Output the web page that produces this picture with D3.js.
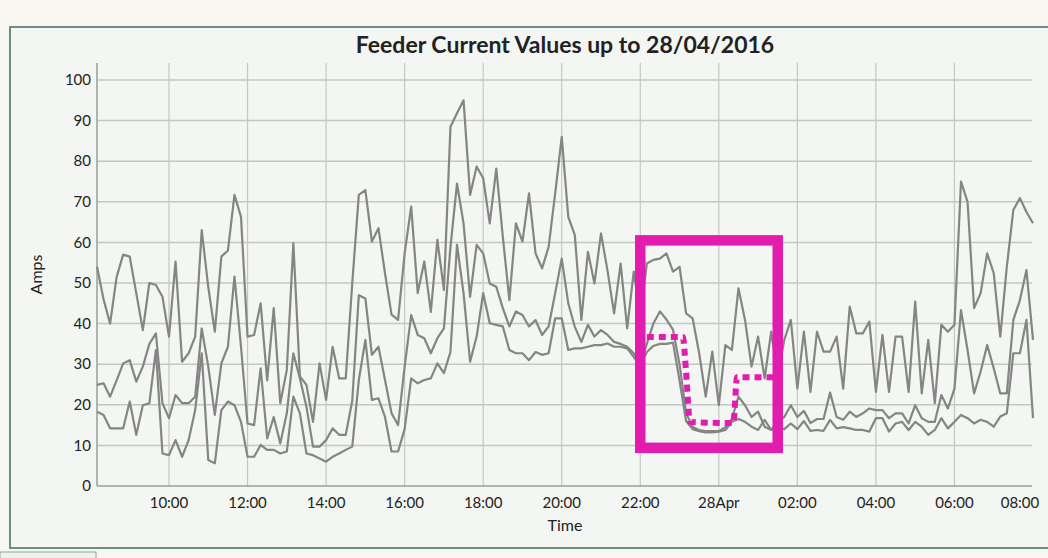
<!DOCTYPE html>
<html>
<head>
<meta charset="utf-8">
<script src="https://cdn.jsdelivr.net/npm/d3@7"></script>
<style>
  body { margin: 0; background: #f7f6f1; }
  svg { display: block; }
  text { font-family: Lato, "Open Sans", sans-serif; fill: #222; }
</style>
</head>
<body>
<svg id="chart" width="1048" height="558"></svg>
<script>
// feeder currents, one reading every 10 minutes from 27 Apr 08:10
const startTime = new Date(2016, 3, 27, 8, 10);
const endTime = new Date(2016, 3, 28, 8, 0);

const feederA = [54, 46, 40, 51.5, 57, 56.5, 47.5, 38.4, 50, 49.5, 46.6, 36.8, 55.3, 30.6, 32.7, 36.8,
  63, 49, 38, 56.5, 58, 71.7, 66.3, 36.8, 37.2, 45, 26, 43.8, 20.4, 28.6, 59.8, 27, 24.9, 15.8, 30.2, 21.2,
  34.3, 26.5, 26.5, 50, 71.7, 72.9, 60.2, 63.5, 52.4, 42.2, 40.9, 57.3, 68.8, 47.5, 55.3, 42.9, 60.6, 48.3,
  88.5, 91.8, 95, 71.7, 78.7, 75.8, 64.7, 78.2, 61.4, 45.8, 64.7, 60.2, 72.1, 57.3, 53.6, 58.9, 72.1, 86,
  66.3, 61.8, 40.9, 57.7, 49.9, 62.2, 53, 42.5, 54.8, 38.8, 52.8, 42, 54.8, 55.7, 56, 57.3, 52.8, 54,
  42.5, 41.3, 32.7, 22, 33.1, 19.9, 34.7, 33.5, 48.7, 40.9, 29.4, 36.8, 26.5, 38, 27, 36, 40.9, 24,
  38, 23.2, 38, 33.1, 33.1, 36.8, 24, 44.2, 37.6, 37.6, 40.5, 23.2, 37.2, 23.2, 36.8, 36.8, 23.2, 45.4,
  22.8, 36, 20.4, 39.7, 38, 39.7, 75, 70, 43.8, 47.5, 57.3, 52.4, 36.8, 54, 68, 70.9, 67.5, 64.7];

const feederB = [24.9, 25.3, 22, 26, 30.2, 31, 25.7, 29.4, 35, 37.6, 20.4, 16.7, 22.4, 20.4, 20.4, 22,
  38.8, 29.4, 17.5, 30.2, 34.3, 51.6, 34.3, 15.4, 15, 29, 11.7, 17, 10.5, 17.9, 32.7, 26.5, 19.5, 9.7, 9.7, 11.3,
  14.2, 12.6, 12.6, 21, 47, 46.2, 32.3, 34.3, 26.1, 17.9, 15, 29.4, 42.1, 37.2, 36.4, 32.7, 36.4, 38.8,
  58.9, 74.5, 64.7, 46.6, 59.4, 57.3, 49.9, 49.1, 43.8, 39.3, 43, 42.1, 39.3, 40.9, 37.2, 39.3, 47.5, 56,
  45, 39.2, 35.5, 39.7, 36.8, 38.4, 37.2, 35.5, 35, 34.3, 32.7, 30, 35, 40, 43, 41, 38.5, 30,
  18, 14.5, 13.8, 13.5, 13.5, 13.5, 14.5, 16.5, 22, 19.9, 17, 18.3, 14.6, 13.8, 16, 17, 19.9, 17,
  18.5, 15.5, 16.5, 16.5, 23, 17, 16.3, 18.3, 17, 17.9, 19.1, 18.7, 18.7, 16.7, 17.9, 17.9, 15.4, 19.9,
  16.7, 15.8, 15.8, 22.4, 19.1, 24, 43.3, 33.5, 22.8, 28.2, 34.7, 29, 22.8, 22.8, 40.9, 45.8, 53.2, 36];

const feederC = [18.3, 17.5, 14.2, 14.2, 14.2, 20.8, 12.6, 19.9, 20.4, 33.5, 8, 7.6, 11.3, 7.2, 11.3, 18.7,
  32.7, 6.4, 5.6, 18.7, 20.8, 19.9, 15.8, 7.2, 7.2, 10.1, 8.9, 8.9, 8, 8.5, 22, 17.9, 8, 7.6, 6.8, 6,
  7.2, 8, 8.9, 9.7, 26.1, 36, 21.2, 21.6, 17, 8.5, 8.5, 14, 26.5, 25.3, 26.1, 26.5, 30.2, 27.8,
  33, 59.4, 47.5, 30.6, 36.8, 47.5, 40.1, 39.7, 39.3, 33.5, 32.7, 32.7, 31, 33, 32.3, 32.7, 41.3, 41.3,
  33.5, 33.9, 33.9, 34.3, 34.7, 34.7, 35.1, 34.3, 34.3, 33.9, 31.8, 29.5, 33, 34.5, 35, 35, 35.3, 26,
  16, 14, 13.5, 13.2, 13.2, 13.4, 13.8, 15.8, 16.5, 15.8, 14.6, 13.8, 16.3, 13.8, 14.5, 14, 15.4, 14,
  16, 13.6, 13.8, 13.6, 16.3, 14.2, 14.5, 14.2, 13.8, 13.8, 13.4, 16.7, 16.7, 13.4, 15.4, 15.8, 13.8, 15.8,
  14.6, 12.6, 13.8, 16.7, 14.2, 15.8, 17.5, 16.7, 15.4, 16.3, 15.8, 14.6, 17.1, 17.9, 32.7, 32.7, 40.9, 16.7];

const yTicks = [0, 10, 20, 30, 40, 50, 60, 70, 80, 90, 100];

// highlight drawn over the chart: box [t0, t1, vTop, vBottom] and dotted step
const highlightBox = [new Date(2016, 3, 27, 22, 0), new Date(2016, 3, 28, 1, 30), 60.5, 9.4];
const highlightStep = [
  [new Date(2016, 3, 27, 22, 10), 36.7],
  [new Date(2016, 3, 27, 23, 5), 36.7],
  [new Date(2016, 3, 27, 23, 10), 28],
  [new Date(2016, 3, 27, 23, 16), 15.8],
  [new Date(2016, 3, 28, 0, 22), 15.5],
  [new Date(2016, 3, 28, 0, 28), 26.8],
  [new Date(2016, 3, 28, 1, 23), 26.8]
];

const svg = d3.select('#chart');
const plotLeft = 97, plotRight = 1033, plotTop = 63, plotBottom = 486;

const x = d3.scaleTime().domain([startTime, endTime]).range([plotLeft, plotRight]);
const y = d3.scaleLinear().domain([0, 100]).range([plotBottom, 80]);

const times = feederA.map((d, i) => d3.timeMinute.offset(startTime, i * 10));

// frame
svg.append('rect')
  .attr('x', 10).attr('y', 27).attr('width', 1050).attr('height', 521)
  .attr('fill', '#f3f6f2').attr('stroke', '#6b8f80').attr('stroke-width', 2);
svg.append('rect')
  .attr('x', 0).attr('y', 552).attr('width', 96).attr('height', 10)
  .attr('fill', '#eef2ef').attr('stroke', '#8aa89a');

// horizontal grid
svg.append('g').selectAll('line').data(yTicks.filter(d => d > 0)).join('line')
  .attr('x1', plotLeft).attr('x2', plotRight - 1)
  .attr('y1', d => y(d)).attr('y2', d => y(d))
  .attr('stroke', '#c4c8c4').attr('stroke-width', 1.5);

// vertical grid
const xTicks = d3.timeHour.every(2).range(d3.timeHour.ceil(startTime), d3.timeMinute.offset(endTime, 1));
svg.append('g').selectAll('line').data(xTicks.filter(d => x(d) < plotRight - 5)).join('line')
  .attr('x1', d => x(d)).attr('x2', d => x(d))
  .attr('y1', plotTop).attr('y2', plotBottom)
  .attr('stroke', '#c4c8c4').attr('stroke-width', 1.2);

// axes lines
svg.append('line').attr('x1', plotLeft).attr('x2', plotLeft).attr('y1', plotTop).attr('y2', plotBottom)
  .attr('stroke', '#9a9e9a').attr('stroke-width', 1.5);
svg.append('line').attr('x1', plotLeft).attr('x2', plotRight - 1).attr('y1', plotBottom).attr('y2', plotBottom)
  .attr('stroke', '#9a9e9a').attr('stroke-width', 1.5);

// y tick labels
svg.append('g').selectAll('text').data(yTicks).join('text')
  .attr('x', plotLeft - 6).attr('y', d => y(d)).attr('dy', '0.35em')
  .attr('text-anchor', 'end').attr('font-size', 15)
  .text(d => d);

// x tick labels
const fmt = d => d.getHours() === 0 ? d3.timeFormat('%d%b')(d) : d3.timeFormat('%H:%M')(d);
svg.append('g').selectAll('text').data(xTicks).join('text')
  .attr('x', d => x(d)).attr('y', 508)
  .attr('dx', d => x(d) > plotRight - 5 ? -13 : 0)
  .attr('text-anchor', 'middle').attr('font-size', 15)
  .text(fmt);

// axis titles
svg.append('text').attr('x', (plotLeft + plotRight) / 2).attr('y', 531)
  .attr('text-anchor', 'middle').attr('font-size', 16).text('Time');
svg.append('text').attr('transform', `translate(42,${(plotTop + plotBottom) / 2}) rotate(-90)`)
  .attr('text-anchor', 'middle').attr('font-size', 16).text('Amps');

// title
svg.append('text').attr('x', (plotLeft + plotRight) / 2).attr('y', 53)
  .attr('text-anchor', 'middle').attr('font-size', 23).attr('font-weight', 'bold')
  .text('Feeder Current Values up to 28/04/2016');

// series
const line = d3.line().x((d, i) => x(times[i])).y(d => y(d));
svg.append('g').selectAll('path').data([feederC, feederB, feederA]).join('path')
  .attr('d', line)
  .attr('fill', 'none')
  .attr('stroke', '#858585')
  .attr('stroke-width', 2.2)
  .attr('stroke-linejoin', 'round');

// highlight
svg.append('rect')
  .attr('x', x(highlightBox[0])).attr('y', y(highlightBox[2]))
  .attr('width', x(highlightBox[1]) - x(highlightBox[0]))
  .attr('height', y(highlightBox[3]) - y(highlightBox[2]))
  .attr('fill', 'none').attr('stroke', '#e31cb0').attr('stroke-width', 10.5);
svg.append('path')
  .attr('d', d3.line().curve(d3.curveMonotoneX).x(d => x(d[0])).y(d => y(d[1]))(highlightStep))
  .attr('fill', 'none').attr('stroke', '#e31cb0').attr('stroke-width', 6)
  .attr('stroke-dasharray', '7,5');
</script>
</body>
</html>
